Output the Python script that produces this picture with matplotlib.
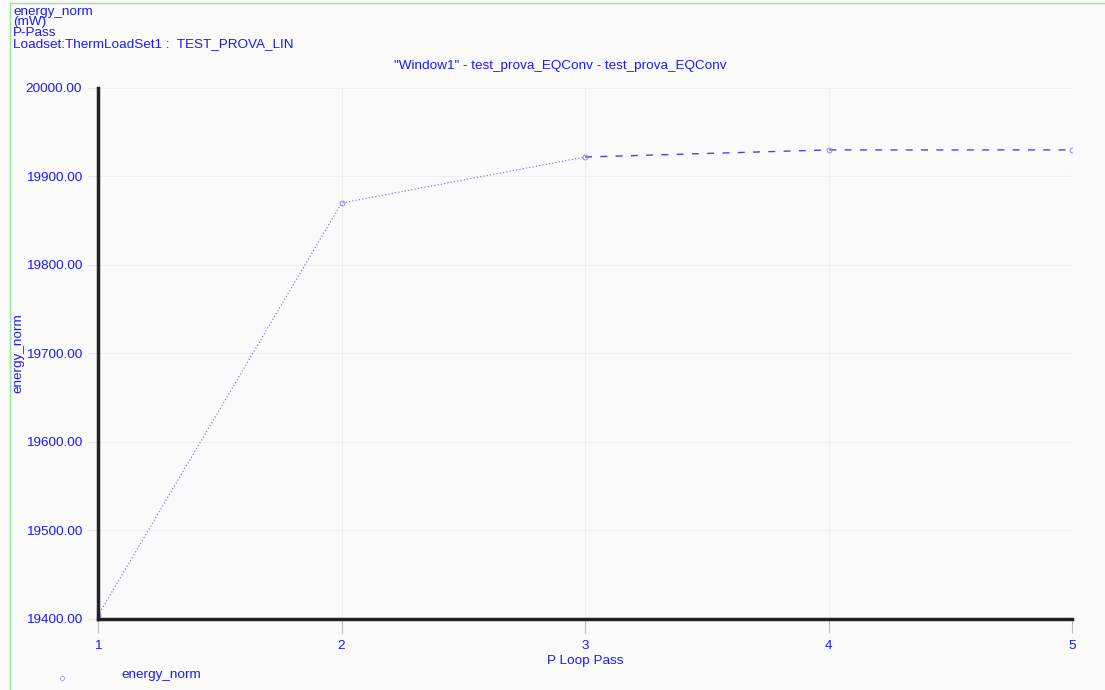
import matplotlib.pyplot as plt
from matplotlib.lines import Line2D

plt.rcParams['font.family'] = ['Liberation Sans', 'DejaVu Sans']

# P loop pass vs energy norm
passes = [1, 2, 3, 4, 5]
energy = [19404, 19870, 19922, 19930, 19930]
y_ticks = [19400, 19500, 19600, 19700, 19800, 19900, 20000]

blue = '#1a1aff'
fs = 9.7

fig = plt.figure(figsize=(11.05, 6.9), dpi=100)
fig.patch.set_facecolor('#fafafa')
ax = fig.add_axes([0.0887, 0.1029, 0.8815, 0.7696])
ax.set_facecolor('#fafafa')

# first passes drawn dotted, later ones dashed (as in the original)
ax.plot(passes[:3], energy[:3], color='#6666ee', linestyle=(0, (1, 2)), linewidth=0.8)
ax.plot(passes[2:], energy[2:], color='#4444ee', linestyle=(0, (5, 6)), linewidth=1.0)
ax.plot(passes, energy, linestyle='none', marker='o', markersize=3.5,
        markerfacecolor='none', markeredgecolor='#8888ee', markeredgewidth=0.7)

ax.set_xlim(1, 5)
ax.set_ylim(19400, 20000)
ax.set_xticks(passes)
ax.set_yticks(y_ticks)
ax.set_yticklabels(['%.2f' % v for v in y_ticks])

for s in ['top', 'right']:
    ax.spines[s].set_visible(False)
for s in ['left', 'bottom']:
    ax.spines[s].set_linewidth(2.5)
    ax.spines[s].set_color('#222222')

ax.grid(True, color='#eeeeee', linewidth=0.8)
ax.tick_params(axis='x', colors='#bbbbbb', labelcolor=blue, labelsize=fs, length=10, pad=5)
ax.tick_params(axis='y', colors='#e6e6e6', labelcolor=blue, labelsize=fs, length=7, pad=4.5)

ax.set_xlabel('P Loop Pass', color=blue, fontsize=fs, labelpad=2)
ax.set_ylabel('energy_norm', color=blue, fontsize=fs)
ax.yaxis.set_label_coords(-0.076, 0.5)

fig.text(0.507, 0.904, '"Window1" - test_prova_EQConv - test_prova_EQConv',
         color=blue, fontsize=fs, ha='center', va='center')
fig.text(0.012, 0.992, 'energy_norm\n(mW)\nP-Pass\nLoadset:ThermLoadSet1 :  TEST_PROVA_LIN',
         color=blue, fontsize=fs, ha='left', va='top', linespacing=0.88)

# legend
fig.add_artist(Line2D([0.056], [0.018], marker='o', markersize=3, markerfacecolor='none',
                      markeredgecolor='#9999ee', markeredgewidth=0.6, linestyle='none',
                      transform=fig.transFigure))
fig.text(0.110, 0.022, 'energy_norm', color=blue, fontsize=fs, ha='left', va='center')

# green frame
fig.add_artist(Line2D([0.0095, 0.0095], [0, 0.996], color='#99e699', linewidth=1,
                      transform=fig.transFigure))
fig.add_artist(Line2D([0.0095, 1], [0.996, 0.996], color='#99e699', linewidth=1,
                      transform=fig.transFigure))

fig.savefig('out.png', dpi=100, facecolor=fig.get_facecolor())
